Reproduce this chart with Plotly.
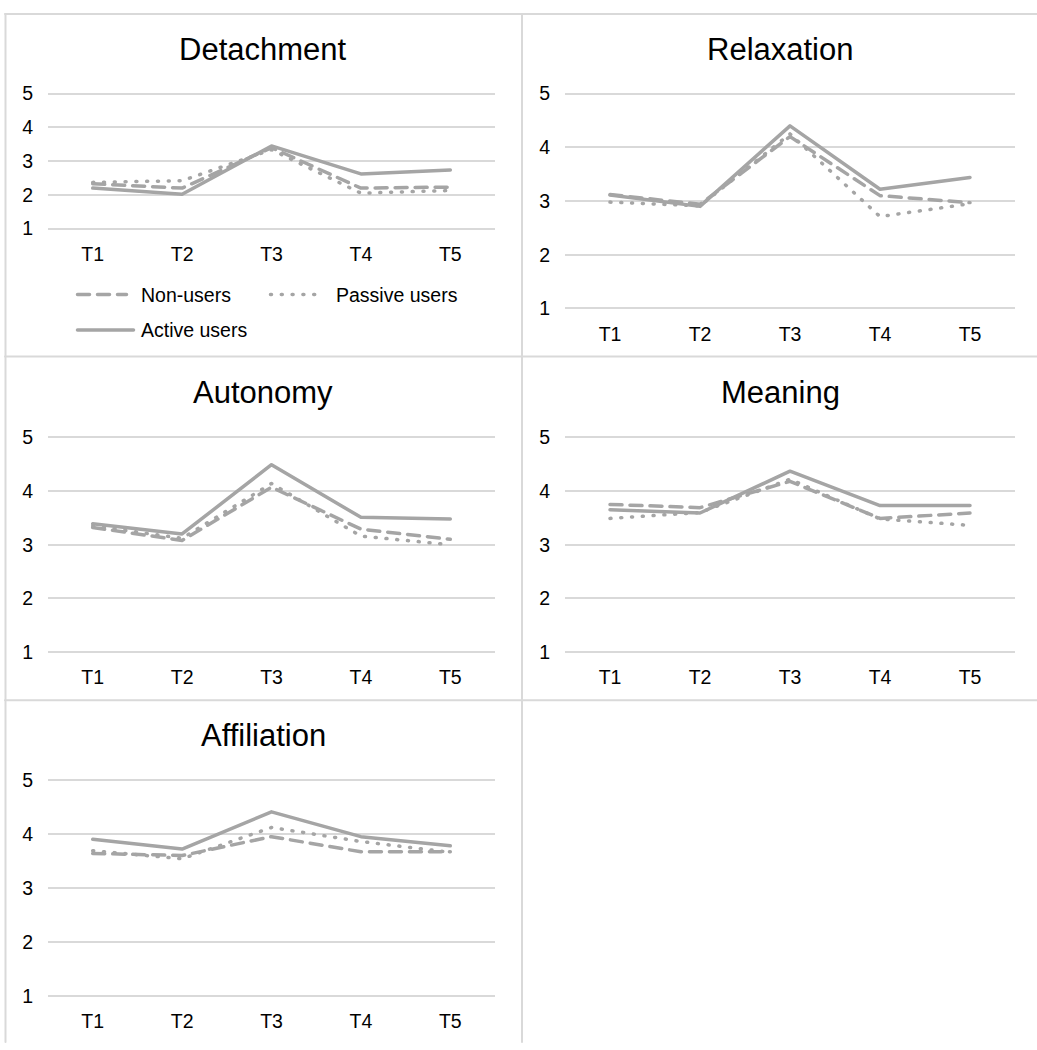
import plotly.graph_objects as go

W, H = 1037, 1050

times = ["T1", "T2", "T3", "T4", "T5"]
groups = ["Non-users", "Passive users", "Active users"]

detachment_non = [2.33, 2.20, 3.40, 2.20, 2.23]
detachment_passive = [2.37, 2.42, 3.34, 2.05, 2.13]
detachment_active = [2.20, 2.02, 3.45, 2.62, 2.74]

relaxation_non = [3.12, 2.94, 4.20, 3.10, 2.97]
relaxation_passive = [2.98, 2.91, 4.25, 2.71, 2.95]
relaxation_active = [3.11, 2.90, 4.40, 3.22, 3.44]

autonomy_non = [3.32, 3.08, 4.07, 3.29, 3.10]
autonomy_passive = [3.35, 3.12, 4.14, 3.16, 3.00]
autonomy_active = [3.39, 3.20, 4.49, 3.51, 3.48]

meaning_non = [3.75, 3.69, 4.18, 3.49, 3.59]
meaning_passive = [3.49, 3.60, 4.22, 3.48, 3.36]
meaning_active = [3.65, 3.59, 4.37, 3.73, 3.73]

affiliation_non = [3.64, 3.60, 3.95, 3.67, 3.67]
affiliation_passive = [3.69, 3.54, 4.12, 3.86, 3.66]
affiliation_active = [3.90, 3.72, 4.41, 3.95, 3.78]

y_ticks = [1, 2, 3, 4, 5]

panels = [
    ("Detachment", [detachment_non, detachment_passive, detachment_active]),
    ("Relaxation", [relaxation_non, relaxation_passive, relaxation_active]),
    ("Autonomy", [autonomy_non, autonomy_passive, autonomy_active]),
    ("Meaning", [meaning_non, meaning_passive, meaning_active]),
    ("Affiliation", [affiliation_non, affiliation_passive, affiliation_active]),
]

# pixel geometry of each plot area: left, right, y of value 5, y of value 1, title centre x, title y
geometry = [
    (48, 495, 87, 224, 263, 42),
    (565, 1015, 87, 305, 780, 42),
    (48, 495, 436, 654, 263, 390),
    (565, 1015, 436, 654, 780, 390),
    (48, 495, 784, 1003, 263, 739),
]

GRAY = "#A5A5A5"
GRID = "#D9D9D9"
FONT = "Liberation Sans, Arial, sans-serif"
dashes = ["12px,8px", "1px,9.8px", "solid"]
LW = 3.5


def px_x(px):
    return px / W


def px_y(py):
    return 1 - py / H


fig = go.Figure()
layout = {}
annotations = []
shapes = []

for i, ((title, series), geo) in enumerate(zip(panels, geometry), start=1):
    x0, x1, y5, y1, tx, ty = geo
    ppu = (y1 - y5) / 4.0
    pad = 3
    sfx = "" if i == 1 else str(i)
    for name, vals, dash in zip(groups, series, dashes):
        fig.add_trace(go.Scatter(
            x=times, y=vals, mode="lines", name=name, showlegend=False,
            line=dict(color=GRAY, width=LW, dash=dash),
            xaxis="x" + sfx, yaxis="y" + sfx, hoverinfo="skip",
        ))
    layout["xaxis" + sfx] = dict(
        domain=[px_x(x0), px_x(x1)], anchor="y" + sfx,
        range=[-0.5, 4.5], type="category",
        showgrid=False, zeroline=False, showline=False,
        ticks="", ticklabelstandoff=9,
        tickfont=dict(size=19.5, color="#000000", family=FONT),
        fixedrange=True,
    )
    layout["yaxis" + sfx] = dict(
        domain=[px_y(y1 + pad), px_y(y5 - pad)], anchor="x" + sfx,
        range=[1 - pad / ppu, 5 + pad / ppu],
        tickvals=y_ticks, showgrid=True, gridcolor=GRID, gridwidth=1.5,
        zeroline=False, showline=False, ticks="", ticklabelstandoff=14,
        tickfont=dict(size=19.5, color="#000000", family=FONT),
        fixedrange=True,
    )
    annotations.append(dict(
        text=title, x=px_x(tx), y=px_y(ty), xref="paper", yref="paper",
        xanchor="center", yanchor="middle", showarrow=False,
        font=dict(size=31, color="#000000", family=FONT),
    ))

# panel frames
frame = dict(type="line", xref="paper", yref="paper",
             line=dict(color=GRID, width=2), layer="below")
for (ax0, ay0, ax1, ay1) in [
    (5, 6, W, 6), (5.5, 6, 5.5, H), (522, 6, 522, H),
    (5, 354, W, 354), (5, 703, W, 703),
]:
    shapes.append(dict(frame, x0=px_x(ax0), y0=px_y(ay0), x1=px_x(ax1), y1=px_y(ay1)))

# legend keys drawn in the first panel
legend_items = [
    (77.5, 126.5, 291, 139, dashes[0], groups[0]),
    (270.5, 323.5, 291, 334, dashes[1], groups[1]),
    (77.5, 133.5, 327, 139, dashes[2], groups[2]),
]
for (lx0, lx1, ly, tx, dash, label) in legend_items:
    shapes.append(dict(type="line", xref="paper", yref="paper",
                       x0=px_x(lx0), x1=px_x(lx1), y0=px_y(ly), y1=px_y(ly),
                       line=dict(color=GRAY, width=LW, dash=dash)))
    annotations.append(dict(
        text=label, x=px_x(tx), y=px_y(ly), xref="paper", yref="paper",
        xanchor="left", yanchor="middle", showarrow=False,
        font=dict(size=19.5, color="#000000", family=FONT),
    ))

fig.update_layout(
    width=W, height=H, margin=dict(l=0, r=0, t=0, b=0, pad=0),
    paper_bgcolor="white", plot_bgcolor="white",
    showlegend=False, annotations=annotations, shapes=shapes,
    font=dict(family=FONT, color="#000000"),
    **layout,
)

round_caps = """
var gd = document.getElementById('{plot_id}');
function roundCaps() {
  gd.querySelectorAll('.scatterlayer path.js-line, .shapelayer path').forEach(function (p) {
    p.style.strokeLinecap = 'round';
    p.style.strokeLinejoin = 'round';
  });
}
roundCaps();
gd.on('plotly_afterplot', roundCaps);
"""

fig.write_html("out.html", config={"displayModeBar": False}, post_script=round_caps)
